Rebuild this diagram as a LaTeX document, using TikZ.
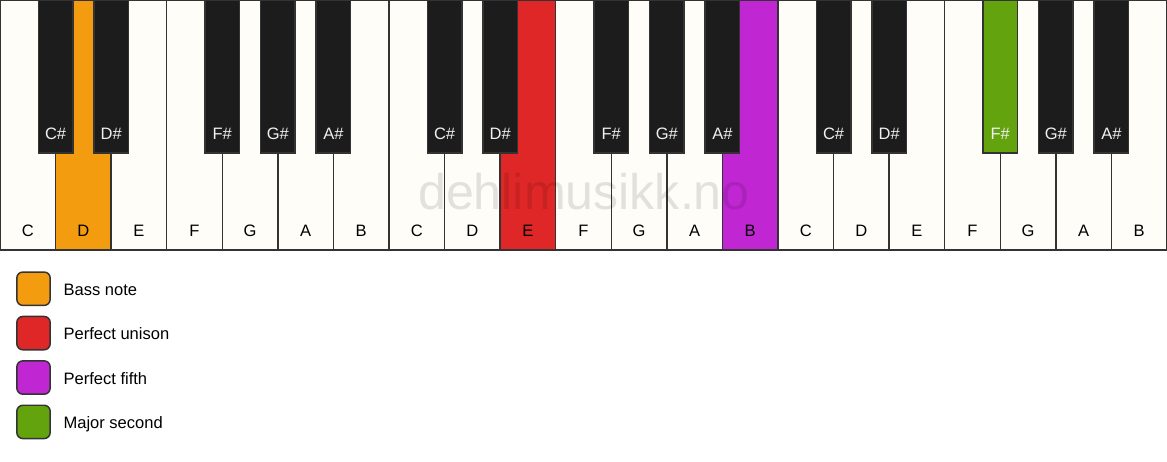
\documentclass[tikz,border=0pt]{standalone}
\usepackage{fontspec}
\setmainfont{Liberation Sans}
\definecolor{keywhite}{HTML}{FFFDF8}
\definecolor{keyblack}{HTML}{1C1C1C}
\definecolor{keyline}{HTML}{333333}
\definecolor{bassc}{HTML}{F39C10}
\definecolor{unisonc}{HTML}{DF2727}
\definecolor{fifthc}{HTML}{C027D3}
\definecolor{secondc}{HTML}{63A30E}
\definecolor{blabel}{HTML}{F0F0F0}
\begin{document}
\begin{tikzpicture}[x=0.75pt,y=-0.75pt,
  whitekey/.style={draw=keyline,line width=1.1pt,minimum width=41.678pt,minimum height=187.5pt,anchor=north west,inner sep=0pt,outer sep=0pt},
  blackkey/.style={draw=keyline,line width=1.1pt,minimum width=25.9pt,minimum height=114.75pt,anchor=north,inner sep=0pt,outer sep=0pt},
  wlabel/.style={anchor=base,inner sep=0pt,font=\fontsize{12.4}{14}\selectfont,text=black},
  blabeltxt/.style={anchor=base,inner sep=0pt,font=\fontsize{12.4}{14}\selectfont,text=blabel},
  legbox/.style={draw=keyline,line width=1.1pt,rounded corners=4.5pt,minimum width=25pt,minimum height=25pt,inner sep=0pt},
  legtext/.style={anchor=base west,inner sep=0pt,font=\fontsize{12.4}{14}\selectfont},
  wmark/.style={inner sep=0pt,anchor=base,text=black,text opacity=0.11,font=\fontsize{37.6}{40}\selectfont}
]
\useasboundingbox (0,0) rectangle (1167,461);
\fill[white] (0,0) rectangle (1167,461);
% white keys
\foreach \n/\f [count=\i from 0] in {C/keywhite,D/bassc,E/keywhite,F/keywhite,G/keywhite,A/keywhite,B/keywhite,
  C/keywhite,D/keywhite,E/unisonc,F/keywhite,G/keywhite,A/keywhite,B/fifthc,
  C/keywhite,D/keywhite,E/keywhite,F/keywhite,G/keywhite,A/keywhite,B/keywhite}{
  \node[whitekey,fill=\f] (w\i) at (\i*55.571,0) {};
  \node[wlabel] (wl\i) at (\i*55.571+27.79,236) {\n};
}
% black keys
\foreach \b/\n/\f in {1/C\#/keyblack,2/D\#/keyblack,4/F\#/keyblack,5/G\#/keyblack,6/A\#/keyblack,
  8/C\#/keyblack,9/D\#/keyblack,11/F\#/keyblack,12/G\#/keyblack,13/A\#/keyblack,
  15/C\#/keyblack,16/D\#/keyblack,18/F\#/secondc,19/G\#/keyblack,20/A\#/keyblack}{
  \node[blackkey,fill=\f] (b\b) at (\b*55.571,0) {};
  \node[blabeltxt] (bl\b) at (\b*55.571,139) {\n};
}
% watermark
\node[wmark] (wm) at (584,209) {dehlimusikk.no};
% legend
\node[legbox,fill=bassc] (lb1) at (33.5,288.7) {};
\node[legtext] (lt1) at (63.3,295.3) {Bass note};
\node[legbox,fill=unisonc] (lb2) at (33.5,333.1) {};
\node[legtext] (lt2) at (63.3,339.7) {Perfect unison};
\node[legbox,fill=fifthc] (lb3) at (33.5,377.5) {};
\node[legtext] (lt3) at (63.3,384.1) {Perfect fifth};
\node[legbox,fill=secondc] (lb4) at (33.5,421.9) {};
\node[legtext] (lt4) at (63.3,428.5) {Major second};
\end{tikzpicture}
\end{document}
